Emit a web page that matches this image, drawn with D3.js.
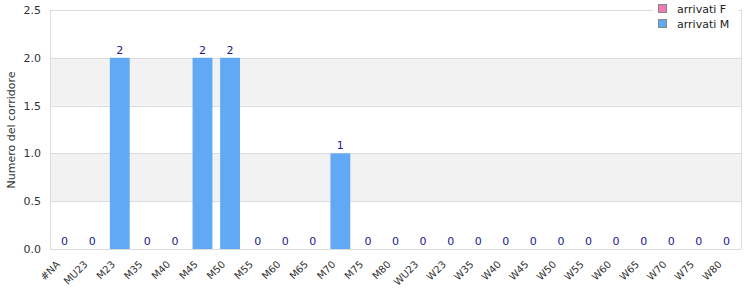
<!DOCTYPE html>
<html><head><meta charset="utf-8">
<script src="https://cdn.jsdelivr.net/npm/d3@7/dist/d3.min.js"></script>
<style>body{margin:0;background:#fff;} text{font-family:"DejaVu Sans",sans-serif;}</style>
</head><body><svg id="c" width="750" height="300"></svg>
<script>
const categories = ["#NA","MU23","M23","M35","M40","M45","M50","M55","M60","M65","M70","M75","M80","WU23","W23","W35","W40","W45","W50","W55","W60","W65","W70","W75","W80"];
const arrivatiM = [0,0,2,0,0,2,2,0,0,0,1,0,0,0,0,0,0,0,0,0,0,0,0,0,0];
const arrivatiF = [0,0,0,0,0,0,0,0,0,0,0,0,0,0,0,0,0,0,0,0,0,0,0,0,0];
const yTicks = [0,0.5,1.0,1.5,2.0,2.5];
const seriesNames = ["arrivati F","arrivati M"];
const colors = {"arrivati F":"#f07ab4","arrivati M":"#61a8f5"};

const svg = d3.select("#c");
const L=50,R=741,T=10,B=249;
const x = d3.scaleBand().domain(categories).range([L,R]).paddingInner(0.28).paddingOuter(0.17);
const y = d3.scaleLinear().domain([0,2.5]).range([B,T]);

// alternating bands
for(let i=0;i<yTicks.length-1;i++){
  if(i%2===1){
    svg.append("rect").attr("x",L).attr("width",R-L).attr("y",y(yTicks[i+1])).attr("height",y(yTicks[i])-y(yTicks[i+1])).attr("fill","#f2f2f2");
  }
}
// gridlines and frame
svg.append("g").selectAll("line").data(yTicks).join("line")
  .attr("x1",L).attr("x2",R).attr("y1",d=>Math.round(y(d))+0.5).attr("y2",d=>Math.round(y(d))+0.5)
  .attr("stroke","#dcdcdc");
svg.append("line").attr("x1",L+0.5).attr("x2",L+0.5).attr("y1",T).attr("y2",B).attr("stroke","#dcdcdc");
svg.append("line").attr("x1",R+0.5).attr("x2",R+0.5).attr("y1",T).attr("y2",B).attr("stroke","#dcdcdc");

// y axis
const ya = svg.append("g").attr("transform",`translate(${L},0)`).call(d3.axisLeft(y).tickValues(yTicks).tickFormat(d3.format(".1f")).tickSize(0).tickPadding(9));
ya.select(".domain").remove();
ya.selectAll("text").attr("font-size",11).attr("fill","#333").attr("font-family","DejaVu Sans");

// x axis labels (rotated -45)
svg.append("g").selectAll("text").data(categories).join("text")
  .attr("transform",d=>`translate(${x(d)+x.bandwidth()/2-4},${B+16}) rotate(-45)`)
  .attr("text-anchor","end").attr("font-size",10).attr("fill","#333")
  .text(d=>d);

// y title
svg.append("text").attr("transform","translate(15,130) rotate(-90)").attr("text-anchor","middle")
  .attr("font-size",11).attr("fill","#333").text("Numero del corridore");

// bars (stacked: M then F)
svg.append("g").selectAll("rect").data(categories).join("rect")
  .attr("x",d=>x(d)).attr("width",x.bandwidth())
  .attr("y",(d,i)=>y(arrivatiM[i])).attr("height",(d,i)=>y(0)-y(arrivatiM[i]))
  .attr("fill",colors["arrivati M"]);
svg.append("g").selectAll("rect").data(categories).join("rect")
  .attr("x",d=>x(d)).attr("width",x.bandwidth())
  .attr("y",(d,i)=>y(arrivatiM[i]+arrivatiF[i])).attr("height",(d,i)=>y(arrivatiM[i])-y(arrivatiM[i]+arrivatiF[i]))
  .attr("fill",colors["arrivati F"]);
// value labels
svg.append("g").selectAll("text").data(categories).join("text")
  .attr("x",d=>x(d)+x.bandwidth()/2).attr("y",(d,i)=>y(arrivatiM[i])-4)
  .attr("text-anchor","middle").attr("font-size",11).attr("fill","#1a1a8c")
  .text((d,i)=>arrivatiM[i]);

// legend
svg.append("rect").attr("x",653).attr("y",0).attr("width",85).attr("height",33).attr("rx",4).attr("fill","#fff");
const lg = svg.append("g").selectAll("g").data(seriesNames).join("g").attr("transform",(d,i)=>`translate(658,${4+i*15})`);
lg.append("rect").attr("x",0.5).attr("y",0.5).attr("width",8).attr("height",8).attr("fill",d=>colors[d]).attr("stroke","#888");
lg.append("text").attr("x",19).attr("y",8.5).attr("font-size",11).attr("fill","#222").text(d=>d);
</script></body></html>
